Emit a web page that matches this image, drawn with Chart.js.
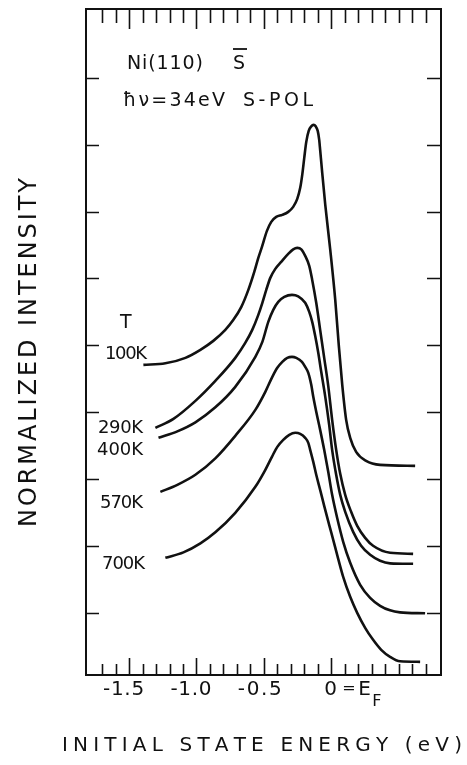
<!DOCTYPE html>
<html><head><meta charset="utf-8">
<script src="https://cdn.jsdelivr.net/npm/chart.js@4/dist/chart.umd.min.js"></script>
<style>html,body{margin:0;padding:0;background:#fff;}#wrap{width:467px;height:765px;}</style>
</head><body><div id="wrap"><canvas id="c" width="467" height="765"></canvas></div>
<script>
// ---- data (energy in eV, normalized intensity in axis-tick units) ----
const temperatures = ["100K", "290K", "400K", "570K", "700K"];

const energy100 = [-1.394,-1.231,-1.082,-0.971,-0.875,-0.786,-0.726,-0.667,-0.615,-0.571,-0.541,-0.514,-0.477,-0.445,-0.408,-0.363,-0.319,-0.282,-0.252,-0.230,-0.215,-0.200,-0.185,-0.167,-0.148,-0.131,-0.115,-0.100,-0.089,-0.082,-0.070,-0.044,-0.007,0.030,0.056,0.082,0.111,0.141,0.185,0.259,0.363,0.623];
const intens100 = [4.708,4.731,4.813,4.933,5.067,5.232,5.381,5.576,5.830,6.099,6.308,6.473,6.712,6.847,6.921,6.951,6.996,7.071,7.191,7.355,7.549,7.804,8.043,8.207,8.275,8.297,8.275,8.207,8.073,7.923,7.654,7.101,6.428,5.680,5.007,4.409,3.886,3.617,3.407,3.273,3.213,3.198];

const energy290 = [-1.305,-1.171,-1.008,-0.860,-0.712,-0.638,-0.586,-0.541,-0.511,-0.482,-0.452,-0.415,-0.371,-0.319,-0.282,-0.252,-0.222,-0.193,-0.163,-0.141,-0.111,-0.082,-0.052,-0.022,0.007,0.037,0.067,0.104,0.148,0.193,0.252,0.311,0.437,0.608];
const intens290 = [3.766,3.901,4.170,4.469,4.813,5.037,5.232,5.456,5.636,5.830,6.009,6.144,6.249,6.368,6.436,6.458,6.436,6.338,6.189,5.979,5.636,5.232,4.813,4.394,3.886,3.437,3.078,2.764,2.510,2.301,2.121,2.002,1.897,1.882];

const energy400 = [-1.282,-1.142,-1.008,-0.860,-0.712,-0.563,-0.511,-0.467,-0.430,-0.393,-0.348,-0.291,-0.245,-0.193,-0.163,-0.141,-0.119,-0.096,-0.074,-0.044,-0.015,0.007,0.037,0.067,0.104,0.163,0.222,0.289,0.363,0.437,0.608];
const intens400 = [3.617,3.714,3.849,4.073,4.379,4.828,5.052,5.351,5.531,5.651,5.725,5.755,5.733,5.636,5.501,5.351,5.142,4.888,4.604,4.230,3.811,3.437,3.064,2.764,2.510,2.211,2.002,1.867,1.778,1.740,1.733];

const energy570 = [-1.268,-1.142,-1.008,-0.860,-0.712,-0.563,-0.489,-0.437,-0.400,-0.363,-0.326,-0.291,-0.259,-0.217,-0.193,-0.170,-0.148,-0.133,-0.111,-0.082,-0.052,-0.022,0.007,0.044,0.089,0.141,0.215,0.289,0.363,0.437,0.511,0.697];
const intens570 = [2.809,2.914,3.064,3.310,3.647,4.035,4.305,4.529,4.664,4.753,4.813,4.828,4.813,4.753,4.679,4.589,4.409,4.230,4.006,3.736,3.437,3.108,2.764,2.421,2.062,1.748,1.419,1.224,1.105,1.037,1.007,0.993];

const energy700 = [-1.231,-1.097,-0.971,-0.860,-0.712,-0.563,-0.497,-0.440,-0.400,-0.356,-0.311,-0.267,-0.230,-0.193,-0.170,-0.156,-0.133,-0.111,-0.082,-0.052,-0.015,0.015,0.052,0.089,0.141,0.193,0.252,0.311,0.371,0.437,0.511,0.660];
const intens700 = [1.822,1.904,2.039,2.204,2.495,2.884,3.108,3.333,3.482,3.587,3.662,3.692,3.677,3.617,3.542,3.437,3.258,3.064,2.839,2.600,2.316,2.092,1.807,1.538,1.239,1.000,0.776,0.596,0.447,0.342,0.275,0.267];

// ---- axes ----
const xMin = -1.82, xMax = 0.815;
const yMin = 0.07, yMax = 10.03;
const xMinorTicks = [-1.7,-1.6,-1.5,-1.4,-1.3,-1.2,-1.1,-1.0,-0.9,-0.8,-0.7,-0.6,-0.5,-0.4,-0.3,-0.2,-0.1,0,0.1,0.2,0.3,0.4,0.5,0.6,0.7];
const xMajorTicks = [-1.5,-1.0,-0.5,0];
const xTickLabels = ["-1.5","-1.0","-0.5","0"];
const yTicks = [1,2,3,4,5,6,7,8,9];

const seriesE = [energy100, energy290, energy400, energy570, energy700];
const seriesI = [intens100, intens290, intens400, intens570, intens700];

const datasets = temperatures.map((t, k) => ({
  label: t,
  data: seriesE[k].map((e, i) => ({x: e, y: seriesI[k][i]})),
  borderColor: '#111',
  borderWidth: 2.6,
  pointRadius: 0,
  fill: false,
  cubicInterpolationMode: 'monotone'
}));

const FONT = '"DejaVu Sans", sans-serif';

function spaced(ctx, text, x, y, width) {
  const chars = Array.from(text);
  const ws = chars.map(c => ctx.measureText(c).width);
  const total = ws.reduce((a, b) => a + b, 0);
  const gap = chars.length > 1 ? (width - total) / (chars.length - 1) : 0;
  let cx = x;
  chars.forEach((c, i) => { ctx.fillText(c, cx, y); cx += ws[i] + gap; });
}

const decor = {
  id: 'decor',
  afterDraw(chart) {
    const ctx = chart.ctx, a = chart.chartArea;
    const xs = chart.scales.x, ys = chart.scales.y;
    ctx.save();
    ctx.strokeStyle = '#111';
    ctx.fillStyle = '#111';
    ctx.lineWidth = 2;
    ctx.strokeRect(a.left, a.top, a.right - a.left, a.bottom - a.top);
    ctx.lineWidth = 1.6;
    ctx.beginPath();
    xMinorTicks.forEach(v => {
      const px = Math.round(xs.getPixelForValue(v)) + 0.5;
      const major = xMajorTicks.some(m => Math.abs(m - v) < 1e-6);
      const len = major ? 17 : 11;
      ctx.moveTo(px, a.bottom); ctx.lineTo(px, a.bottom - len);
      ctx.moveTo(px, a.top); ctx.lineTo(px, a.top + len + 3);
    });
    yTicks.forEach(v => {
      const py = Math.round(ys.getPixelForValue(v)) + 0.5;
      ctx.moveTo(a.left, py); ctx.lineTo(a.left + 13, py);
      ctx.moveTo(a.right, py); ctx.lineTo(a.right - 14, py);
    });
    ctx.stroke();

    ctx.textBaseline = 'alphabetic';
    // x tick labels
    ctx.font = '20px ' + FONT;
    const labelW = [41, 41, 44];
    xTickLabels.forEach((t, i) => {
      const px = xs.getPixelForValue(xMajorTicks[i]);
      if (i < 3) spaced(ctx, t, px - 26, 695, labelW[i]);
      else {
        ctx.fillText(t, px - 7, 695);
        ctx.font = '16px ' + FONT;
        ctx.fillText('=', px + 11, 693);
        ctx.font = '20px ' + FONT;
        ctx.fillText('E', px + 27, 695);
        ctx.font = '16px ' + FONT;
        ctx.fillText('F', px + 41, 706);
        ctx.font = '20px ' + FONT;
      }
    });

    // annotations
    ctx.font = '19px ' + FONT;
    spaced(ctx, 'Ni(110)', 127, 69, 76);
    ctx.fillText('S', 233, 69);
    ctx.lineWidth = 1.8;
    ctx.beginPath(); ctx.moveTo(233, 49); ctx.lineTo(247, 49); ctx.stroke();
    spaced(ctx, '\u0127\u03BD=34eV', 123, 106, 102);
    spaced(ctx, 'S-POL', 243, 106, 70);
    ctx.fillText('T', 120, 328);

    ctx.font = '18px ' + FONT;
    const tl = [[105, 359, 42], [98, 433, 45], [97, 455, 46], [100, 508, 43], [102, 569, 43]];
    temperatures.forEach((t, i) => spaced(ctx, t, tl[i][0], tl[i][1], tl[i][2]));

    // axis titles
    ctx.font = '20px ' + FONT;
    spaced(ctx, 'INITIAL STATE ENERGY (eV)', 62, 751, 400);
    ctx.save();
    ctx.translate(36, 527);
    ctx.rotate(-Math.PI / 2);
    ctx.font = '24px ' + FONT;
    spaced(ctx, 'NORMALIZED INTENSITY', 0, 0, 349);
    ctx.restore();
    ctx.restore();
  }
};

new Chart(document.getElementById('c'), {
  type: 'line',
  data: { datasets },
  options: {
    responsive: false,
    devicePixelRatio: 1,
    animation: false,
    layout: { padding: { left: 86, right: 26, top: 9, bottom: 90 } },
    scales: {
      x: { type: 'linear', display: false, min: xMin, max: xMax },
      y: { type: 'linear', display: false, min: yMin, max: yMax }
    },
    plugins: { legend: { display: false }, tooltip: { enabled: false } }
  },
  plugins: [decor]
});
</script></body></html>
